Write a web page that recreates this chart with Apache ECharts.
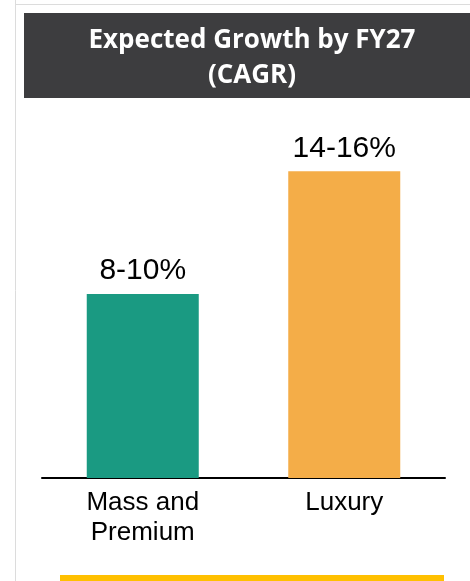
<!DOCTYPE html>
<html>
<head>
<meta charset="utf-8">
<script src="https://cdn.jsdelivr.net/npm/echarts@6/dist/echarts.min.js"></script>
<style>
html,body{margin:0;padding:0;background:#fff;}
#chart{width:470px;height:581px;}
</style>
</head>
<body>
<div id="chart"></div>
<script>
const categories = ['Mass and\nPremium', 'Luxury'];
const values = [9, 15];
const valueLabels = ['8-10%', '14-16%'];
const barColors = ['#1a9a82', '#f4ad48'];
const titleText = 'Expected Growth by FY27\n(CAGR)';

const chart = echarts.init(document.getElementById('chart'), null, {renderer: 'canvas'});
chart.setOption({
  backgroundColor: '#ffffff',
  animation: false,
  title: {
    text: titleText,
    left: 247,
    top: 18,
    textAlign: 'center',
    textStyle: {
      color: '#ffffff',
      fontFamily: 'Open Sans',
      fontWeight: 'bold',
      fontSize: 26,
      lineHeight: 35
    }
  },
  graphic: [
    {type: 'line', shape: {x1: 15.5, y1: 0, x2: 15.5, y2: 581}, style: {stroke: '#dcdcdc', lineWidth: 1}, z: -1},
    {type: 'line', shape: {x1: 15, y1: 4.5, x2: 470, y2: 4.5}, style: {stroke: '#dcdcdc', lineWidth: 1}, z: -1},
    {type: 'rect', shape: {x: 24, y: 13, width: 446, height: 85}, style: {fill: '#3d3d3f'}, z: 0},
    {type: 'rect', shape: {x: 60, y: 575, width: 384, height: 6}, style: {fill: '#ffc000'}, z: 0}
  ],
  grid: {left: 42, right: 25, top: 110, bottom: 103, containLabel: false},
  xAxis: {
    type: 'category',
    data: categories,
    axisLine: {lineStyle: {color: '#000000', width: 2}},
    axisTick: {show: false},
    axisLabel: {
      color: '#000000',
      fontFamily: 'Liberation Sans',
      fontSize: 26,
      lineHeight: 30,
      margin: 10
    }
  },
  yAxis: {
    type: 'value',
    min: 0,
    max: 18,
    show: false,
    splitLine: {show: false}
  },
  series: [{
    type: 'bar',
    barWidth: 112,
    data: values.map((v, i) => ({value: v, itemStyle: {color: barColors[i]}})),
    label: {
      show: true,
      position: 'top',
      distance: 8,
      color: '#000000',
      fontFamily: 'Liberation Sans',
      fontSize: 30,
      formatter: p => valueLabels[p.dataIndex]
    }
  }]
});
</script>
</body>
</html>
